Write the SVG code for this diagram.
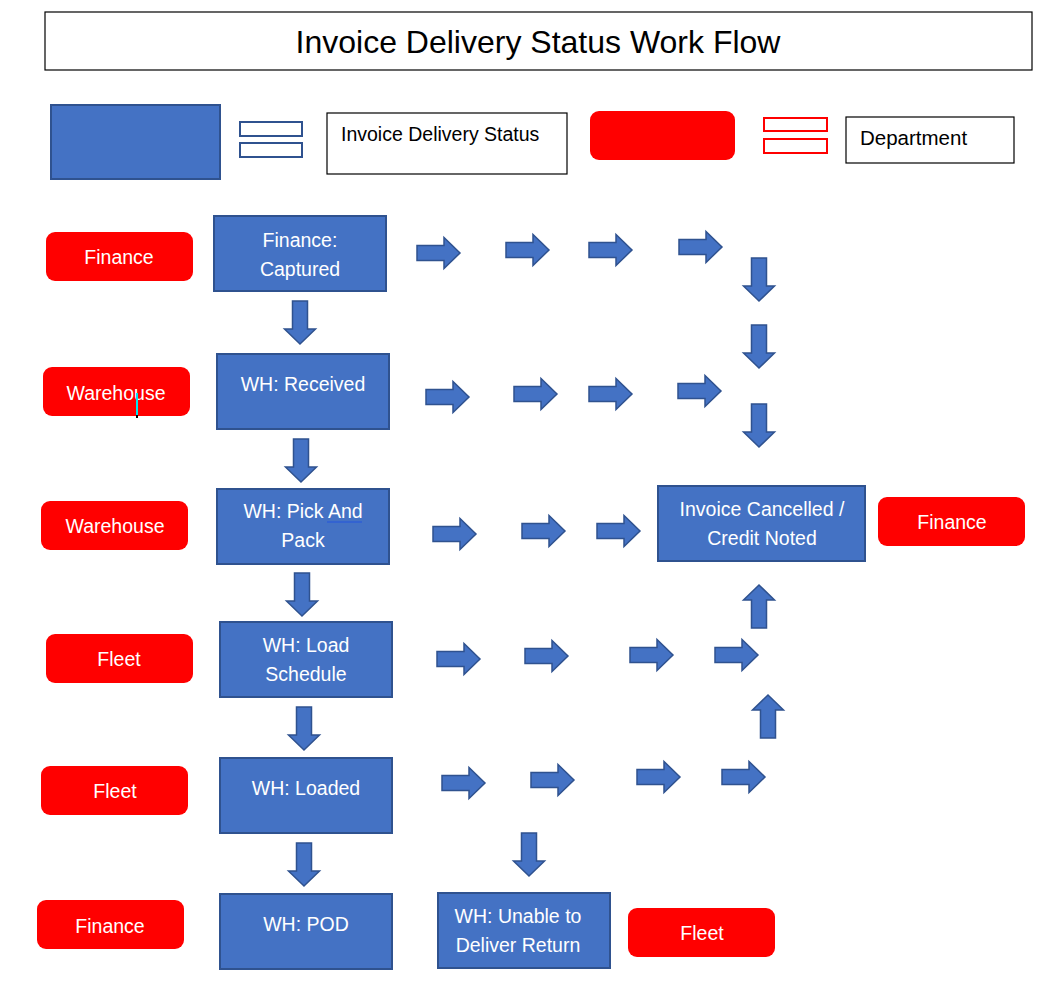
<svg xmlns="http://www.w3.org/2000/svg" xmlns:xlink="http://www.w3.org/1999/xlink" width="1044" height="990" viewBox="0 0 1044 990">
<style>
.bg{fill:#fff}
.status{fill:#4472C4;stroke:#2F528F;stroke-width:2}
.dept{fill:#FF0000}
.frame{fill:#fff;stroke:#000;stroke-width:1.2}
.wt{fill:#fff;font-family:"Liberation Sans",Arial,sans-serif;font-size:19.5px;text-anchor:middle}
.bt{fill:#000;font-family:"Liberation Sans",Arial,sans-serif;font-size:19.5px}
.arrow{fill:#4472C4;stroke:#2F528F;stroke-width:1.5;stroke-linejoin:miter}
</style>
<defs>
<path id="ra" class="arrow" d="M0,-7.5 H27 V-15.5 L43,0 L27,15.5 V7.5 H0 Z"/>
<path id="da" class="arrow" d="M-7.5,0 V28 H-15.5 L0,43 L15.5,28 H7.5 V0 Z"/>
<path id="ua" class="arrow" d="M-7.5,43 V15 H-15.5 L0,0 L15.5,15 H7.5 V43 Z"/>
</defs>
<rect class="bg" x="0" y="0" width="1044" height="990"/>

<g id="title">
<rect class="frame" x="45" y="12" width="987" height="58"/>
<text x="538" y="53" style="font-family:'Liberation Sans',Arial,sans-serif;font-size:32px;text-anchor:middle;fill:#000">Invoice Delivery Status Work Flow</text>
</g>

<g id="legend-status">
<rect class="status" x="51" y="105" width="169" height="74"/>
<rect x="240" y="122" width="62" height="14" fill="#fff" stroke="#2F528F" stroke-width="2"/>
<rect x="240" y="143" width="62" height="14" fill="#fff" stroke="#2F528F" stroke-width="2"/>
<rect class="frame" x="327" y="113" width="240" height="61"/>
<text class="bt" x="341" y="141">Invoice Delivery Status</text>
</g>

<g id="legend-dept">
<rect class="dept" x="590" y="111" width="145" height="49" rx="9"/>
<rect x="764" y="118" width="63" height="13" fill="#fff" stroke="#FF0000" stroke-width="2"/>
<rect x="764" y="139" width="63" height="14" fill="#fff" stroke="#FF0000" stroke-width="2"/>
<rect class="frame" x="846" y="117" width="168" height="46"/>
<text class="bt" x="860" y="145" style="font-size:20.5px">Department</text>
</g>

<g id="dept-finance-1"><rect class="dept" x="46" y="232" width="147" height="49" rx="9"/><text class="wt" x="119" y="264">Finance</text></g>
<g id="dept-warehouse-1"><rect class="dept" x="43" y="367" width="147" height="49" rx="9"/><text class="wt" x="116" y="400">Warehouse</text><line x1="137" y1="393" x2="137" y2="415" stroke="#00E5EE" stroke-width="2"/><line x1="137" y1="415" x2="137" y2="418" stroke="#000" stroke-width="2"/></g>
<g id="dept-warehouse-2"><rect class="dept" x="41" y="501" width="147" height="49" rx="9"/><text class="wt" x="115" y="533">Warehouse</text></g>
<g id="dept-fleet-1"><rect class="dept" x="46" y="634" width="147" height="49" rx="9"/><text class="wt" x="119" y="666">Fleet</text></g>
<g id="dept-fleet-2"><rect class="dept" x="41" y="766" width="147" height="49" rx="9"/><text class="wt" x="115" y="798">Fleet</text></g>
<g id="dept-finance-2"><rect class="dept" x="37" y="900" width="147" height="49" rx="9"/><text class="wt" x="110" y="933">Finance</text></g>
<g id="dept-finance-3"><rect class="dept" x="878" y="497" width="147" height="49" rx="9"/><text class="wt" x="952" y="529">Finance</text></g>
<g id="dept-fleet-3"><rect class="dept" x="628" y="908" width="147" height="49" rx="9"/><text class="wt" x="702" y="940">Fleet</text></g>

<g id="status-captured"><rect class="status" x="214" y="216" width="172" height="75"/><text class="wt" x="300" y="247">Finance:</text><text class="wt" x="300" y="276">Captured</text></g>
<g id="status-received"><rect class="status" x="217" y="354" width="172" height="75"/><text class="wt" x="303" y="391">WH: Received</text></g>
<g id="status-pickpack"><rect class="status" x="217" y="489" width="172" height="75"/><text class="wt" x="303" y="518">WH: Pick And</text><text class="wt" x="303" y="547">Pack</text><line x1="327" y1="522" x2="362" y2="522" stroke="#2255DD" stroke-width="1"/></g>
<g id="status-loadschedule"><rect class="status" x="220" y="622" width="172" height="75"/><text class="wt" x="306" y="652">WH: Load</text><text class="wt" x="306" y="681">Schedule</text></g>
<g id="status-loaded"><rect class="status" x="220" y="758" width="172" height="75"/><text class="wt" x="306" y="795">WH: Loaded</text></g>
<g id="status-pod"><rect class="status" x="220" y="894" width="172" height="75"/><text class="wt" x="306" y="931">WH: POD</text></g>
<g id="status-unable"><rect class="status" x="438" y="893" width="172" height="75"/><text class="wt" x="518" y="923">WH: Unable to</text><text class="wt" x="518" y="952">Deliver Return</text></g>
<g id="status-cancelled"><rect class="status" x="658" y="486" width="207" height="75"/><text class="wt" x="762" y="516">Invoice Cancelled /</text><text class="wt" x="762" y="545">Credit Noted</text></g>

<g id="connectors">
<use xlink:href="#ra" href="#ra" x="417" y="253"/>
<use xlink:href="#ra" href="#ra" x="506" y="250"/>
<use xlink:href="#ra" href="#ra" x="589" y="250"/>
<use xlink:href="#ra" href="#ra" x="679" y="247"/>
<use xlink:href="#ra" href="#ra" x="426" y="397"/>
<use xlink:href="#ra" href="#ra" x="514" y="394"/>
<use xlink:href="#ra" href="#ra" x="589" y="394"/>
<use xlink:href="#ra" href="#ra" x="678" y="391"/>
<use xlink:href="#ra" href="#ra" x="433" y="534"/>
<use xlink:href="#ra" href="#ra" x="522" y="531"/>
<use xlink:href="#ra" href="#ra" x="597" y="531"/>
<use xlink:href="#ra" href="#ra" x="437" y="659"/>
<use xlink:href="#ra" href="#ra" x="525" y="656"/>
<use xlink:href="#ra" href="#ra" x="630" y="655"/>
<use xlink:href="#ra" href="#ra" x="715" y="655"/>
<use xlink:href="#ra" href="#ra" x="442" y="783"/>
<use xlink:href="#ra" href="#ra" x="531" y="780"/>
<use xlink:href="#ra" href="#ra" x="637" y="777"/>
<use xlink:href="#ra" href="#ra" x="722" y="777"/>
<use xlink:href="#da" href="#da" x="300" y="301"/>
<use xlink:href="#da" href="#da" x="301" y="439"/>
<use xlink:href="#da" href="#da" x="302" y="573"/>
<use xlink:href="#da" href="#da" x="304" y="707"/>
<use xlink:href="#da" href="#da" x="304" y="843"/>
<use xlink:href="#da" href="#da" x="529" y="833"/>
<use xlink:href="#da" href="#da" x="759" y="258"/>
<use xlink:href="#da" href="#da" x="759" y="325"/>
<use xlink:href="#da" href="#da" x="759" y="404"/>
<use xlink:href="#ua" href="#ua" x="759" y="585"/>
<use xlink:href="#ua" href="#ua" x="768" y="695"/>
</g>
</svg>
